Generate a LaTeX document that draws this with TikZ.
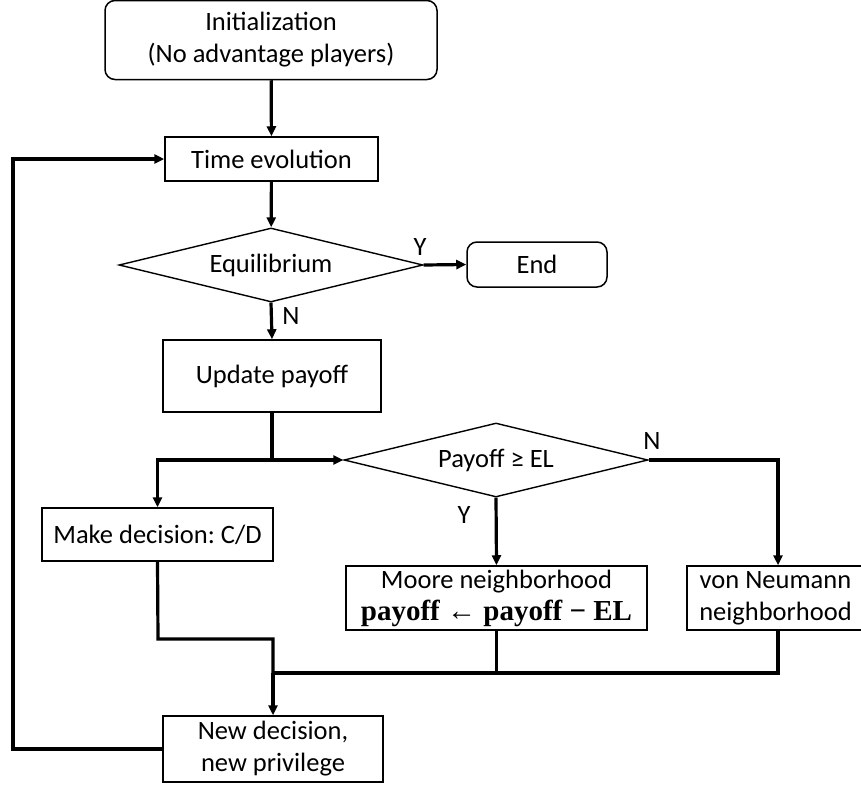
\documentclass[tikz,border=0pt]{standalone}
\usepackage{fontspec}
\setmainfont{Carlito}
\newfontfamily\eqfont{Liberation Serif}
\usetikzlibrary{arrows.meta,shapes.geometric}
\frenchspacing
\begin{document}
\begin{tikzpicture}[x=1pt,y=-1pt,
  every node/.style={font=\fontsize{26.5}{32}\selectfont},
  box/.style={draw, line width=1.5pt, inner sep=0pt, align=center},
  rbox/.style={box, rounded corners=10pt},
  dia/.style={draw, line width=1.4pt, diamond, inner sep=0pt, aspect=4},
  lbl/.style={inner sep=0pt},
  conn/.style={line width=3.2pt, -{Triangle[length=10pt,width=9pt]}},
  wire/.style={line width=3.2pt}]
\useasboundingbox (0,0) rectangle (861,787);

\node[rbox, minimum width=332pt, minimum height=79pt] (init) at (271,40) {\raisebox{-3pt}{Initialization}\\\raisebox{-3pt}{(No advantage players)}};
\node[box, minimum width=213pt, minimum height=44pt] (time) at (271.5,159) {Time evolution};
\node[dia, minimum width=304pt, minimum height=74pt] (eq) at (271,265) {Equilibrium};
\node[rbox, minimum width=140pt, minimum height=45pt] (end) at (537,264.5) {End};
\node[box, minimum width=218pt, minimum height=72pt] (upd) at (272,376) {Update payoff};
\node[dia, minimum width=304pt, minimum height=74pt] (pay) at (496,460) {Payoff ≥ EL};
\node[box, minimum width=231pt, minimum height=53pt] (make) at (157.5,534.5) {Make decision: C/D};
\node[box, minimum width=301pt, minimum height=64pt] (moore) at (496.5,598) {Moore neighborhood\\{\eqfont\fontsize{29}{32}\selectfont\bfseries payoff \mdseries←\bfseries\ payoff − EL}};
\node[box, minimum width=177pt, minimum height=64pt] (vn) at (775.5,598) {von Neumann\\neighborhood};
\node[box, minimum width=220pt, minimum height=66pt] (new) at (273,749) {New decision,\\new privilege};

\node[lbl] (ly) at (420,247) {Y};
\node[lbl] (ln) at (291,316) {N};
\node[lbl] (ly2) at (464,515) {Y};
\node[lbl] (ln2) at (652,441) {N};

\coordinate (j1) at (272,460);
\coordinate (j2) at (158,639);
\coordinate (j3) at (273,639);
\coordinate (j4) at (273,673);
\coordinate (j5) at (778,673);
\coordinate (fb1) at (13,749);
\coordinate (fb2) at (13,159);

\draw[conn] (init) -- (time);
\draw[conn] (time) -- (eq);
\draw[conn] (eq.east) -- (end.west);
\draw[conn] (eq.south) -- (upd.north);
\draw[wire] (upd.south) -- (j1);
\draw[conn] (j1) -- (pay.west);
\draw[conn] (j1) -| (make.north);
\draw[conn] (pay.south) -- (moore.north);
\draw[conn] (pay.east) -| (j5 |- vn.north);
\draw[wire] (make.south) -- (j2) -- (j3) -- (j4);
\draw[wire] (moore.south) -- (moore.south |- j4);
\draw[wire] (j5 |- vn.south) -- (j5) -- (j4);
\draw[conn] (j4) -- (new.north -| j4);
\draw[conn] (new.west) -- (fb1) -- (fb2) -- (time.west);
\end{tikzpicture}
\end{document}
